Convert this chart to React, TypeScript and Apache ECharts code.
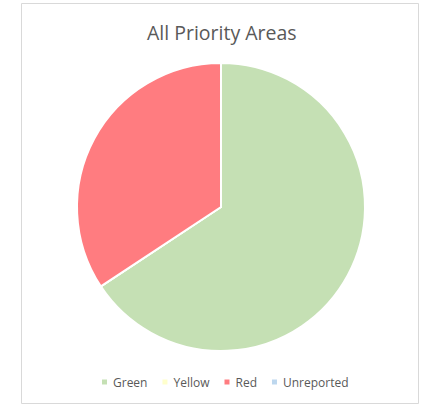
import React, { useEffect, useRef } from "react";
import * as echarts from "echarts";

const categories = ["Green", "Yellow", "Red", "Unreported"];
const values = [23, 0, 12, 0];
const colors = ["#C5E0B4", "#FFFFCC", "#FF7C80", "#BDD7EE"];
const titleText = "All Priority Areas";

export default function App() {
  const ref = useRef<HTMLDivElement>(null);
  useEffect(() => {
    if (!ref.current) return;
    const chart = echarts.init(ref.current, null, { renderer: "svg" });
    chart.setOption({
      animation: false,
      backgroundColor: "#ffffff",
      title: {
        text: titleText,
        left: 142,
        top: 17,
        textStyle: { fontFamily: "Open Sans", fontSize: 19.5, fontWeight: "normal", color: "#595959" },
      },
      legend: {
        data: categories,
        bottom: 13,
        left: 95,
        icon: "rect",
        itemWidth: 7,
        itemHeight: 7,
        itemGap: 13,
        textStyle: { fontFamily: "Open Sans", fontSize: 12, color: "#595959" },
      },
      graphic: [
        {
          type: "rect",
          shape: { x: 21.5, y: 3.5, width: 397, height: 400 },
          style: { fill: "none", stroke: "#D9D9D9", lineWidth: 1 },
          silent: true,
        },
      ],
      series: [
        {
          type: "pie",
          center: [221, 207],
          radius: [0, 144],
          startAngle: 90,
          clockwise: true,
          label: { show: false },
          labelLine: { show: false },
          emphasis: { disabled: true },
          itemStyle: { borderColor: "#ffffff", borderWidth: 2 },
          data: categories.map((name, i) => ({
            name,
            value: values[i],
            itemStyle: { color: colors[i] },
          })),
        },
      ],
    });
    return () => chart.dispose();
  }, []);
  return (
    <div
      ref={ref}
      style={{ position: "fixed", left: 0, top: 0, width: 424, height: 406 }}
    />
  );
}
